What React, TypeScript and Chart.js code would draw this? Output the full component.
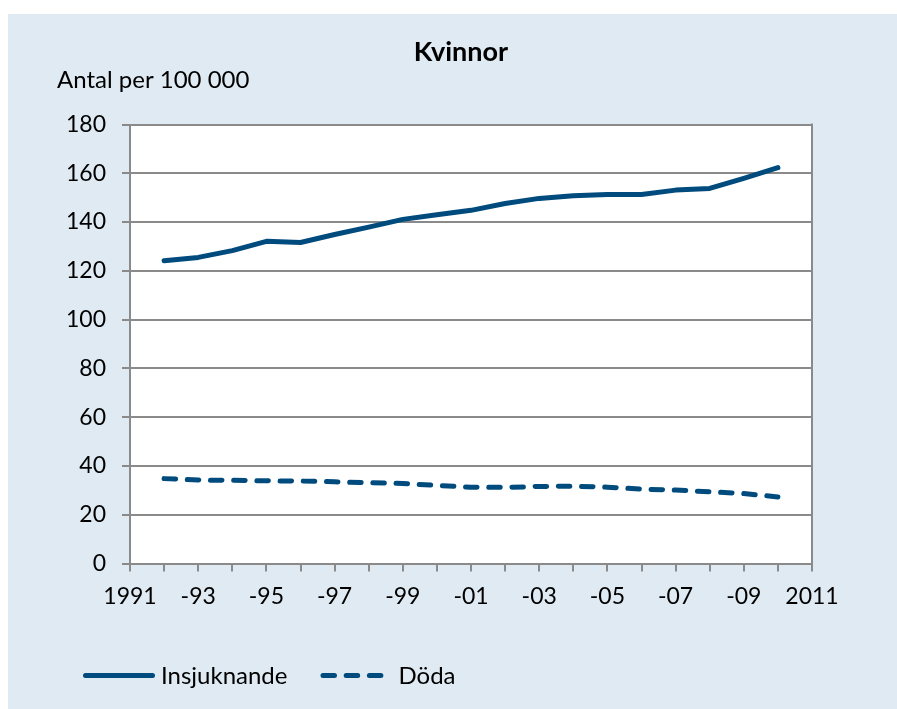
import React, { useEffect, useRef } from "react";
import { Chart, registerables } from "chart.js";

Chart.register(...registerables);

const years = [1992, 1993, 1994, 1995, 1996, 1997, 1998, 1999, 2000, 2001, 2002, 2003, 2004, 2005, 2006, 2007, 2008, 2009, 2010];
const insjuknande = [124.1, 125.5, 128.3, 132.1, 131.6, 134.9, 137.9, 141.1, 143.0, 144.8, 147.6, 149.7, 150.8, 151.3, 151.3, 153.1, 153.8, 157.9, 162.3];
const doda = [34.8, 34.2, 34.1, 33.9, 33.8, 33.5, 33.1, 32.8, 32.0, 31.3, 31.2, 31.6, 31.7, 31.3, 30.5, 30.1, 29.4, 28.7, 27.3];
const seriesNames = ["Insjuknande", "Döda"];
const chartTitle = "Kvinnor";
const yAxisTitle = "Antal per 100 000";
const xMin = 1991;
const xMax = 2011;
const yMin = 0;
const yMax = 180;
const yStep = 20;

const FONT = "Lato, 'Noto Sans', sans-serif";
const LINE = "#004b7d";
const GRID = "#8a8a8a";
const BG = "#dfeaf2";

const xLabel = (v: number) => {
  if (v % 2 === 0) return "";
  if (v === xMin || v === xMax) return String(v);
  return "-" + String(v).slice(2);
};

const decorPlugin = {
  id: "decor",
  beforeDraw(chart: any) {
    const { ctx, chartArea: a } = chart;
    ctx.save();
    ctx.fillStyle = "#ffffff";
    ctx.fillRect(a.left, a.top, a.right - a.left, a.bottom - a.top);
    ctx.restore();
  },
  afterDraw(chart: any) {
    const { ctx, chartArea: a } = chart;
    ctx.save();
    // right frame line
    ctx.strokeStyle = GRID;
    ctx.lineWidth = 2;
    ctx.beginPath();
    ctx.moveTo(a.right, a.top - 1);
    ctx.lineTo(a.right, a.bottom);
    ctx.stroke();

    // title
    ctx.fillStyle = "#000";
    ctx.textBaseline = "alphabetic";
    ctx.textAlign = "center";
    ctx.font = `bold 27px ${FONT}`;
    ctx.fillText(chartTitle, 453, 47);
    // axis title
    ctx.textAlign = "left";
    ctx.font = `24px ${FONT}`;
    ctx.fillText(yAxisTitle, 49, 74);

    // legend
    const ly = 661.5;
    const textBase = 669.5;
    let x = 77.5;
    chart.data.datasets.forEach((ds: any) => {
      ctx.save();
      ctx.strokeStyle = ds.borderColor;
      ctx.lineWidth = ds.borderWidth;
      ctx.lineCap = "round";
      ctx.setLineDash(ds.borderDash || []);
      ctx.beginPath();
      ctx.moveTo(x, ly);
      ctx.lineTo(x + 67, ly);
      ctx.stroke();
      ctx.restore();
      ctx.fillStyle = "#000";
      ctx.font = `24px ${FONT}`;
      ctx.textAlign = "left";
      const tx = x + 75.5;
      ctx.fillText(ds.label, tx, textBase);
      x = tx + ctx.measureText(ds.label).width + 33 + 2.5;
    });
    ctx.restore();
  },
};

export default function App() {
  const ref = useRef<HTMLCanvasElement | null>(null);
  useEffect(() => {
    if (!ref.current) return;
    const chart = new Chart(ref.current, {
      type: "line",
      data: {
        datasets: [
          {
            label: seriesNames[0],
            data: years.map((y, i) => ({ x: y, y: insjuknande[i] })),
            borderColor: LINE,
            backgroundColor: LINE,
            borderWidth: 5,
            pointRadius: 0,
            tension: 0,
            borderCapStyle: "round",
            borderJoinStyle: "round",
          },
          {
            label: seriesNames[1],
            data: years.map((y, i) => ({ x: y, y: doda[i] })),
            borderColor: LINE,
            backgroundColor: LINE,
            borderWidth: 5,
            borderDash: [11.5, 11.7],
            pointRadius: 0,
            tension: 0,
            borderCapStyle: "round",
            borderJoinStyle: "round",
          },
        ],
      },
      options: {
        animation: false,
        responsive: true,
        maintainAspectRatio: false,
        layout: { padding: { top: 110.5, right: 85, bottom: 0, left: 0 } },
        plugins: {
          legend: { display: false },
          title: { display: false },
          tooltip: { enabled: false },
        },
        scales: {
          x: {
            type: "linear",
            min: xMin,
            max: xMax,
            afterFit: (s: any) => {
              s.height = 145.5;
            },
            afterBuildTicks: (s: any) => {
              const t = [];
              for (let v = xMin; v <= xMax; v++) t.push({ value: v });
              s.ticks = t;
            },
            ticks: {
              stepSize: 1,
              autoSkip: false,
              maxRotation: 0,
              padding: 11,
              color: "#000",
              font: { family: FONT, size: 23 },
              callback: (v: any) => xLabel(Number(v)),
            },
            grid: {
              drawOnChartArea: false,
              drawTicks: true,
              tickLength: 8,
              color: GRID,
              lineWidth: 2,
            },
            border: { display: true, color: GRID, width: 2 },
          },
          y: {
            min: yMin,
            max: yMax,
            afterFit: (s: any) => {
              s.width = 122;
            },
            ticks: {
              stepSize: yStep,
              padding: 16,
              color: "#000",
              font: { family: FONT, size: 23 },
            },
            grid: {
              color: GRID,
              lineWidth: 2,
              tickLength: 8,
              drawTicks: true,
            },
            border: { display: true, color: GRID, width: 2 },
          },
        },
      },
      plugins: [decorPlugin],
    });
    return () => chart.destroy();
  }, []);

  return (
    <div
      style={{
        position: "fixed",
        left: 8,
        top: 14,
        width: 889,
        height: 695,
        background: BG,
      }}
    >
      <canvas ref={ref} />
    </div>
  );
}
